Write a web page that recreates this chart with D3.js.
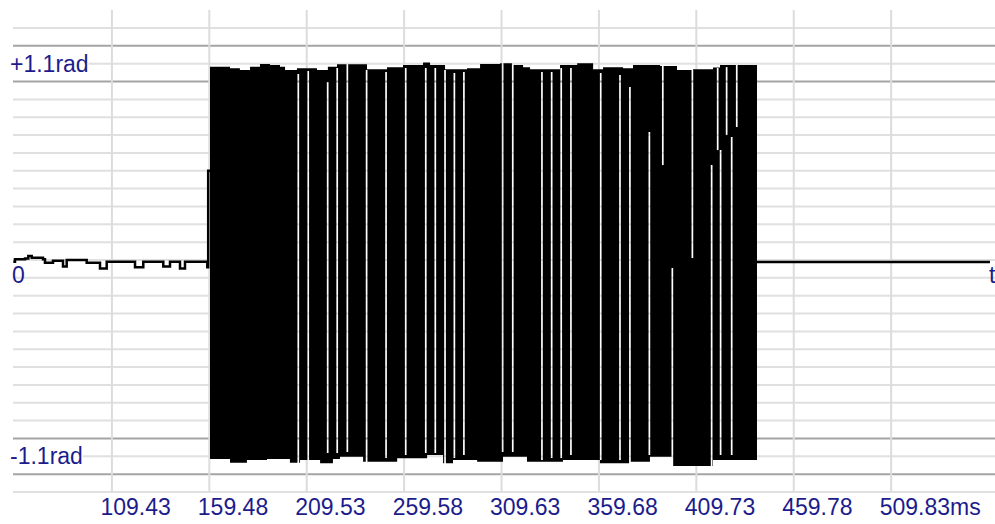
<!DOCTYPE html>
<html>
<head>
<meta charset="utf-8">
<script src="https://cdn.jsdelivr.net/npm/d3@7"></script>
<style>
  html, body { margin: 0; padding: 0; background: #fff; }
  svg { display: block; }
</style>
</head>
<body>
<svg id="chart"></svg>
<script>
// ---- data (time in ms, phase in rad) ----
const timeDomain = [58.6, 563.2];
const phaseDomain = [-1.3, 1.3];
const timeTicks = [109.43, 159.48, 209.53, 259.58, 309.63, 359.68, 409.73, 459.78, 509.83];
const majorLevels = [1.2, 1.0, -1.0, -1.2];
const ampLabels = [[1.1, "+1.1rad"], [-1.1, "-1.1rad"]];

// quiet part before the burst
const leadTrace = [
  [58.75, -0.01], [59.63, 0.004], [64.77, 0.009], [66.46, 0.022], [68.21, 0.013],
  [74.02, 0.004], [75.04, -0.015], [79.15, -0.004], [84.29, -0.037], [86.19, 0],
  [91.33, 0], [96.47, -0.015], [103.31, -0.047], [106.75, -0.01], [117.03, -0.01],
  [121.3, -0.041], [125.55, -0.01], [135.83, -0.037], [139.27, -0.01], [144.41, -0.047],
  [146.98, -0.01], [156.39, -0.01], [158.44, -0.04], [158.9, 0.5], [159.83, 0.5]
];

// burst: upper and lower envelope of the fast toggling
const upperEnv = [
  [159.83, 1.083], [170.1, 1.074], [175.2, 1.065], [180.4, 1.083], [185.5, 1.098],
  [190.7, 1.093], [195.8, 1.083], [198.4, 1.065], [204.5, 1.074], [214.8, 1.065],
  [220.4, 1.083], [225.1, 1.097], [240.5, 1.069], [250.8, 1.08], [259.0, 1.093],
  [269.3, 1.106], [272.9, 1.093], [280.6, 1.069], [291.9, 1.074], [298.6, 1.098],
  [308.9, 1.102], [315.5, 1.093], [320.7, 1.08], [324.3, 1.069], [339.7, 1.093],
  [348.5, 1.102], [356.7, 1.069], [361.8, 1.08], [372.1, 1.074], [377.2, 1.093],
  [391.1, 1.087], [399.8, 1.065], [408.0, 1.069], [418.3, 1.079], [421.9, 1.093],
  [440.9, 1.093]
];
const lowerEnv = [
  [159.83, -1.115], [170.1, -1.136], [178.8, -1.121], [189.1, -1.115], [200.9, -1.136],
  [206.1, -1.121], [216.4, -1.139], [223.0, -1.115], [226.6, -1.102], [238.5, -1.13],
  [256.0, -1.111], [271.4, -1.093], [279.6, -1.139], [284.7, -1.121], [297.1, -1.13],
  [310.4, -1.102], [322.7, -1.13], [341.2, -1.121], [360.2, -1.139], [375.6, -1.13],
  [385.9, -1.102], [397.7, -1.154], [418.3, -1.121], [440.9, -1.121]
];
// places where the signal did not toggle: [time, from, to]
const gaps = [
  [205.2, 1.042, -1.25], [210.3, 1.059, -1.25], [220.3, 0.997, -1.081], [225.2, 1.076, -1.081],
  [230.4, 1.25, -1.076], [240.3, 1.065, -1.25], [250.3, 1.053, -1.109], [260.4, 1.076, -1.093],
  [270.7, 1.076, -1.081], [275.6, 1.076, -1.081], [280.6, 1.065, -1.25], [285.4, 1.048, -1.109],
  [290.3, 1.053, -1.093], [310.2, 1.25, -1.076], [315.4, 1.25, -1.076], [330.4, 1.053, -1.121],
  [335.4, 1.053, -1.109], [340.3, 1.076, -1.109], [345.3, 1.076, -1.093], [360.6, 1.048, -1.121],
  [370.5, 1.037, -1.121], [375.6, 0.969, -1.25], [385.6, 0.717, -1.093], [392.5, 1.25, 0.532],
  [397.4, -0.045, -1.25], [407.7, 1.065, 0.011], [417.6, 0.532, -1.25], [420.7, 1.076, 0.616],
  [422.2, 0.616, -1.093], [425.3, 1.081, 0.7], [427.9, 0.689, -1.093], [430.5, 1.25, 0.745]
];

// quiet part after the burst
const tailTrace = [[440.9, -0.011], [560.6, -0.011]];

// ---- drawing ----
const width = 995, height = 524;
const labelColor = "#1c1c8c";
const font = "'Liberation Sans', Arial, sans-serif";

const svg = d3.select("#chart").attr("width", width).attr("height", height);

const x = d3.scaleLinear().domain(timeDomain).range([13, 995]);
const y = d3.scaleLinear().domain(phaseDomain).range([492, 28]);

//horizontal grid, every 0.1 rad
const levels = d3.range(-13, 14).map(i => i / 10);
svg.append("g")
  .selectAll("line")
  .data(levels)
  .enter()
  .append("line")
  .attr("x1", x.range()[0])
  .attr("x2", x.range()[1])
  .attr("y1", d => y(d))
  .attr("y2", d => y(d))
  .attr("stroke", d => majorLevels.some(m => Math.abs(m - d) < 1e-6) ? "#a4a4a4" : "#e0e0e0")
  .attr("stroke-width", 2);

//vertical grid at the time ticks
svg.append("g")
  .selectAll("line")
  .data(timeTicks)
  .enter()
  .append("line")
  .attr("x1", d => x(d))
  .attr("x2", d => x(d))
  .attr("y1", 10)
  .attr("y2", y.range()[0])
  .attr("stroke", "#dcdcdc")
  .attr("stroke-width", 2);

//gaps cut out of the burst block
const mask = svg.append("defs").append("mask").attr("id", "gapMask");
mask.append("rect").attr("width", width).attr("height", height).attr("fill", "#fff");
mask.selectAll("line")
  .data(gaps)
  .enter()
  .append("line")
  .attr("x1", d => x(d[0]))
  .attr("x2", d => x(d[0]))
  .attr("y1", d => y(d[1]))
  .attr("y2", d => y(d[2]))
  .attr("stroke", "#000")
  .attr("stroke-width", 1.7);

const upperLine = d3.line().x(d => x(d[0])).y(d => y(d[1])).curve(d3.curveStepAfter);
const lowerLine = d3.line().x(d => x(d[0])).y(d => y(d[1])).curve(d3.curveStepBefore);
const blockPath = upperLine(upperEnv) + lowerLine(lowerEnv.slice().reverse()).replace(/^M/, "L") + "Z";

svg.append("path")
  .attr("d", blockPath)
  .attr("fill", "#000")
  .attr("mask", "url(#gapMask)");

const traceLine = d3.line().x(d => x(d[0])).y(d => y(d[1])).curve(d3.curveStepAfter);

svg.append("path")
  .attr("d", traceLine(leadTrace))
  .attr("fill", "none")
  .attr("stroke", "#000")
  .attr("stroke-width", 2.5);

svg.append("path")
  .attr("d", traceLine(tailTrace))
  .attr("fill", "none")
  .attr("stroke", "#000")
  .attr("stroke-width", 2.5);

//time axis labels
const xAxis = d3.axisBottom(x)
  .tickValues(timeTicks)
  .tickSize(0)
  .tickFormat((d, i) => d3.format(".2f")(d) + (i === timeTicks.length - 1 ? "ms" : ""));

const xAxisG = svg.append("g")
  .attr("transform", `translate(0, ${y.range()[0]})`)
  .call(xAxis);
xAxisG.select(".domain").remove();
xAxisG.selectAll("text")
  .attr("x", -12)
  .attr("y", 23)
  .attr("dy", null)
  .attr("text-anchor", "start")
  .attr("fill", labelColor)
  .style("font-family", font)
  .style("font-size", "23px");

//amplitude labels on a white patch over the grid
ampLabels.forEach(([v, txt]) => {
  const g = svg.append("g");
  const bg = g.append("rect").attr("fill", "#fff");
  const t = g.append("text")
    .attr("x", 10)
    .attr("y", y(v) + 8)
    .attr("fill", labelColor)
    .style("font-family", font)
    .style("font-size", "23px")
    .text(txt);
  const b = t.node().getBBox();
  bg.attr("x", b.x).attr("y", b.y + 2).attr("width", b.width).attr("height", b.height - 4);
});

svg.append("text")
  .attr("x", 12)
  .attr("y", y(0) + 23)
  .attr("fill", labelColor)
  .style("font-family", font)
  .style("font-size", "23px")
  .text("0");

svg.append("text")
  .attr("x", 989)
  .attr("y", y(0) + 23)
  .attr("fill", labelColor)
  .style("font-family", font)
  .style("font-size", "23px")
  .text("t");
</script>
</body>
</html>
